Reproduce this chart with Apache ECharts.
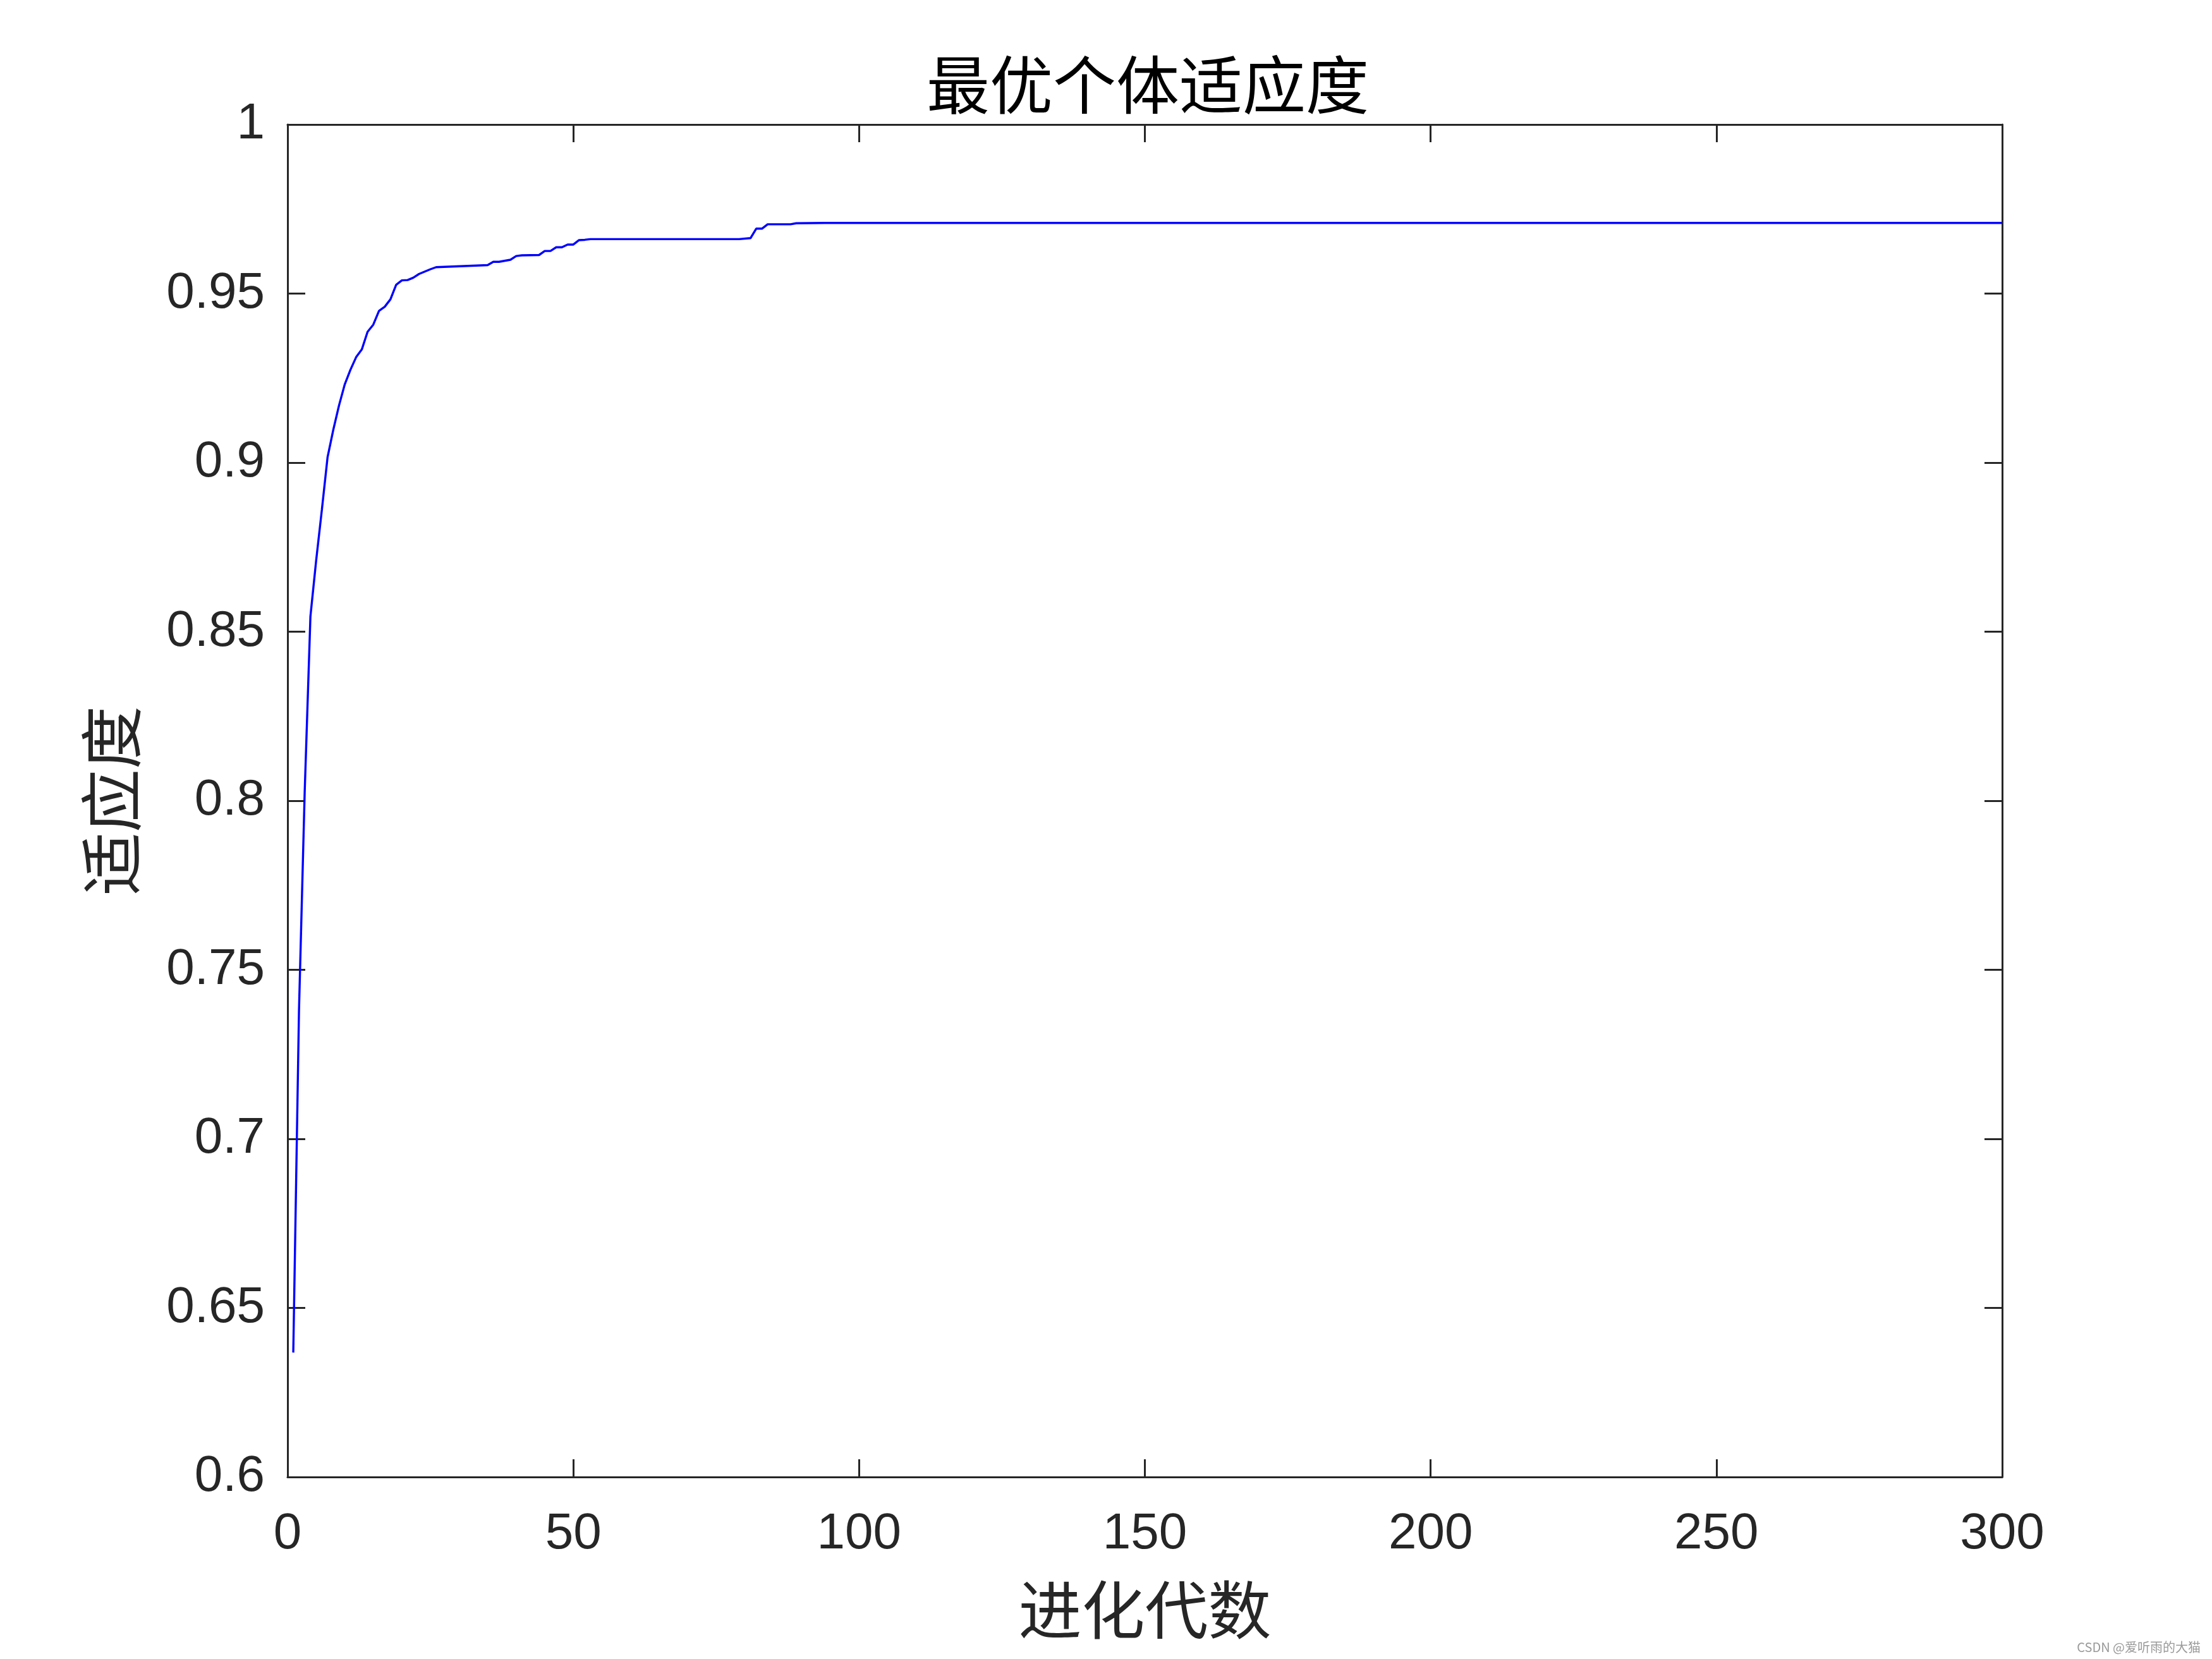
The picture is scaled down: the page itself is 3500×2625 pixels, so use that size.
<!DOCTYPE html>
<html>
<head>
<meta charset="utf-8">
<script src="https://cdn.jsdelivr.net/npm/echarts@6/dist/echarts.min.js"></script>
<style>
html,body{margin:0;padding:0;background:#fff;}
#chart{width:3500px;height:2625px;}
</style>
</head>
<body>
<div id="chart"></div>
<script>
// Data (generation -> best fitness), breakpoints of the curve
var generations = [1,2,3,4,5,6,7,8,9,10,11,12,13,14,15,16,17,18,19,20,21,22,23,24,25,26,35,36,37,39,40,41,44,45,46,47,48,49,50,51,52,53,79,81,82,83,84,88,89,94,300];
var fitness = [0.6368,0.738,0.8027,0.8545,0.871,0.886,0.9016,0.9097,0.9169,0.9231,0.92745,0.9312,0.9335,0.9387,0.9408,0.9449,0.9461,0.9483,0.9526,0.9539,0.9540,0.9547,0.9558,0.9565,0.9572,0.9578,0.9584,0.9594,0.9594,0.9600,0.9611,0.9613,0.9614,0.9626,0.9626,0.9637,0.9637,0.9645,0.9645,0.9658,0.9659,0.9661,0.9661,0.9664,0.9692,0.9692,0.9705,0.9705,0.9708,0.9709,0.9709];
var xTicks = [0,50,100,150,200,250,300];
var yTicks = [0.6,0.65,0.7,0.75,0.8,0.85,0.9,0.95,1];
var titleText = '最优个体适应度';
var xName = '进化代数';
var yName = '适应度';
var watermark = 'CSDN @爱听雨的大猫';

var seriesData = generations.map(function (g, i) { return [g, fitness[i]]; });

var axisColor = '#262626';
var latin = '"Liberation Sans", Arial, Helvetica, sans-serif';
var cjk = '"Noto Sans CJK SC", sans-serif';

function xAx(pos, show) {
  return {
    type: 'value', position: pos, min: xTicks[0], max: xTicks[xTicks.length - 1], interval: 50,
    splitLine: {show: false},
    axisLine: {show: true, onZero: false, lineStyle: {color: axisColor, width: 3}},
    axisTick: {show: true, inside: true, length: 28, lineStyle: {color: axisColor, width: 3}},
    axisLabel: {show: show, margin: 51, color: axisColor, fontSize: 80, fontFamily: latin},
    name: show ? xName : '', nameLocation: 'middle', nameGap: 160,
    nameTextStyle: {color: axisColor, fontSize: 100, fontFamily: cjk}
  };
}
function yAx(pos, show) {
  return {
    type: 'value', position: pos, min: yTicks[0], max: yTicks[yTicks.length - 1], interval: 0.05,
    splitLine: {show: false},
    axisLine: {show: true, onZero: false, lineStyle: {color: axisColor, width: 3}},
    axisTick: {show: true, inside: true, length: 28, lineStyle: {color: axisColor, width: 3}},
    axisLabel: {show: show, margin: 36, color: axisColor, fontSize: 80, fontFamily: latin,
      padding: [12, 0, 0, 0],
      formatter: function (v) { return String(parseFloat(v.toFixed(2))); }},
    name: show ? yName : '', nameLocation: 'middle', nameGap: 229,
    nameTextStyle: {color: axisColor, fontSize: 100, fontFamily: cjk}
  };
}

var chart = echarts.init(document.getElementById('chart'), null, {renderer: 'canvas'});
chart.setOption({
  backgroundColor: '#ffffff',
  animation: false,
  title: {
    text: titleText, left: 1461, top: 79,
    textStyle: {color: '#000000', fontSize: 100, fontWeight: 'normal', fontFamily: cjk}
  },
  grid: {left: 455, right: 332, top: 197, bottom: 288, containLabel: false},
  xAxis: [xAx('bottom', true), xAx('top', false)],
  yAxis: [yAx('left', true), yAx('right', false)],
  series: [{
    type: 'line', xAxisIndex: 0, yAxisIndex: 0, data: seriesData,
    showSymbol: false, symbol: 'none',
    lineStyle: {color: '#0000ff', width: 3.4},
    itemStyle: {color: '#0000ff'}
  }],
  graphic: [{
    type: 'text', right: 18, top: 2596,
    style: {text: watermark, fill: '#9a9a9a', fontSize: 20, fontFamily: cjk}
  }]
});
</script>
</body>
</html>
